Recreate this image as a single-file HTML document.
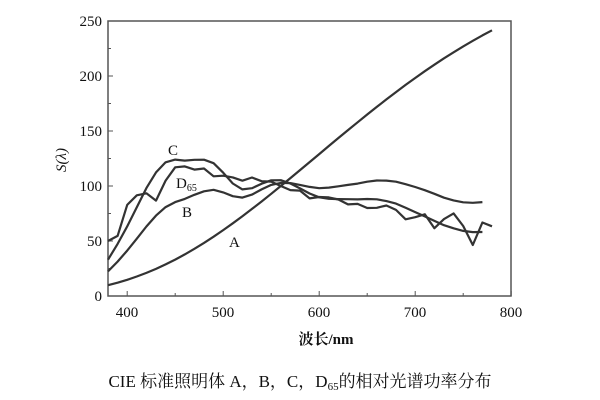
<!DOCTYPE html>
<html><head><meta charset="utf-8"><style>
html,body{margin:0;padding:0;background:#fff;}
svg{display:block;font-family:"Liberation Serif","Noto Serif CJK SC",serif;}
</style></head><body>
<svg id="s" width="600" height="400" viewBox="0 0 600 400">
<rect x="108" y="21" width="403" height="275" fill="none" stroke="#555" stroke-width="1.5"/>
<g font-size="15" fill="#111" text-anchor="end">
<text x="102" y="26">250</text><text x="102" y="81">200</text><text x="102" y="136">150</text>
<text x="102" y="191">100</text><text x="102" y="246">50</text><text x="102" y="301">0</text>
</g>
<g font-size="15" fill="#111" text-anchor="middle">
<text x="127" y="317">400</text><text x="223" y="317">500</text><text x="319" y="317">600</text>
<text x="415" y="317">700</text><text x="511" y="317">800</text>
</g>
<text x="66" y="160" font-size="15" font-style="italic" fill="#111" transform="rotate(-90 66 160)" text-anchor="middle">S(λ)</text>
<text x="326" y="344" font-size="15" font-weight="bold" fill="#111" text-anchor="middle">波长/nm</text>
<text x="300" y="387" font-size="17" fill="#111" text-anchor="middle">CIE 标准照明体 A，B，C，D<tspan font-size="11" dy="3">65</tspan><tspan dy="-3">的相对光谱功率分布</tspan></text>
<g font-size="15" fill="#111">
<text x="168" y="155">C</text>
<text x="176" y="188">D<tspan font-size="10" dy="3">65</tspan></text>
<text x="182" y="217">B</text>
<text x="229" y="247">A</text>
</g>
<g id="ticks" stroke="#555" stroke-width="1"></g>
<g id="curves" fill="none" stroke="#333" stroke-width="2.2" stroke-linejoin="round"></g>
</svg>
<script>
var X=function(l){return 108+(l-380)*0.96;},Y=function(v){return 296-v*1.1;};
var t='';
for(var l=400;l<=800;l+=50){var h=(l%100==0)?5:3;t+='<line x1="'+X(l)+'" y1="296" x2="'+X(l)+'" y2="'+(296-h)+'"/>';}
for(var v=0;v<=250;v+=25){var h=(v%50==0)?5:3;t+='<line x1="108" y1="'+Y(v)+'" x2="'+(108+h)+'" y2="'+Y(v)+'"/>';}
document.getElementById('ticks').innerHTML=t;
function path(start,arr){var d='';for(var i=0;i<arr.length;i++){d+=(i?'L':'M')+X(start+i*10).toFixed(1)+' '+Y(arr[i]).toFixed(1);}return '<path d="'+d+'"/>';}
var A=[];function pl(l){var c=1.4388e7/2856;return Math.pow(560/l,5)*(Math.exp(c/560)-1)/(Math.exp(c/l)-1)*100;}
for(var l=380;l<=780;l+=10)A.push(pl(l));
var B=[22.4,31.3,41.3,52.1,63.2,73.1,80.8,85.4,88.3,92.0,95.2,96.5,94.2,90.7,89.5,92.2,96.9,101.0,102.8,102.6,101.0,99.2,98.0,98.5,99.7,101.0,102.2,103.9,105.0,104.9,103.9,101.6,99.1,96.2,92.9,89.4,86.9,85.2,84.7,85.4];
var C=[33.0,47.4,63.3,80.6,98.1,112.4,121.5,124.0,123.1,123.8,123.9,120.7,112.1,102.3,96.9,98.0,102.1,105.2,105.3,102.3,97.8,93.2,89.7,88.4,88.1,88.0,87.8,88.2,87.9,86.3,84.0,80.2,76.3,72.4,68.3,64.4,61.5,59.2,58.1,58.2];
var D=[50.0,54.6,82.8,91.5,93.4,86.7,104.9,117.0,117.8,114.9,115.9,108.8,109.4,107.8,104.8,107.7,104.4,104.0,100.0,96.3,95.8,88.7,90.0,89.6,87.7,83.3,83.7,80.0,80.2,82.3,78.3,69.7,71.6,74.3,61.6,69.9,75.1,63.6,46.4,66.8,63.4];
document.getElementById('curves').innerHTML=path(380,A)+path(380,B)+path(380,C)+path(380,D);
</script>
</body></html>
